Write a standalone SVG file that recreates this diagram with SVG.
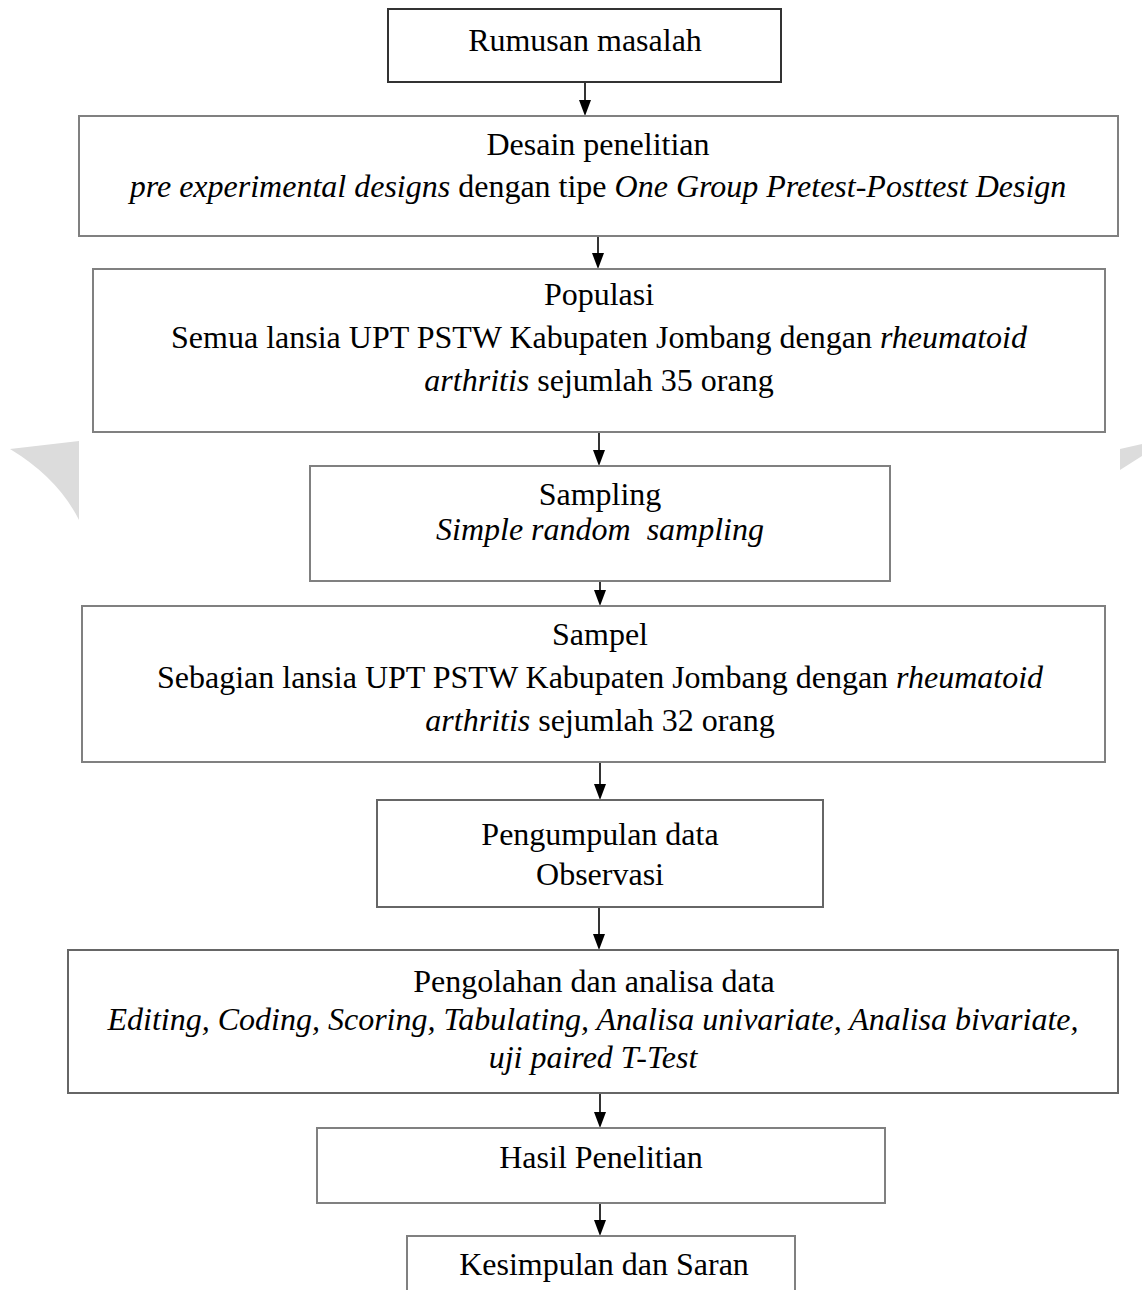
<svg xmlns="http://www.w3.org/2000/svg" width="1142" height="1290" viewBox="0 0 1142 1290">
<style>
.box{fill:#fff;stroke:#808080;stroke-width:2}
.dark{stroke:#333}
.t{font-family:"Liberation Serif","Times New Roman",serif;font-size:32px;fill:#000;text-anchor:middle}
.i{font-style:italic}
.c{stroke:#000;stroke-width:1.6;fill:none}
.wm{fill:#dcdcdc}
</style>
<rect width="1142" height="1290" fill="#fff"/>
<path class="wm" d="M10,449 L79,441 L79,520 Q58,478 10,449 Z"/>
<path class="wm" d="M1120,449 L1142,444 L1142,456 L1120,470 Z"/>

<g id="connectors">
<line class="c" x1="585" y1="82" x2="585" y2="100"/><path d="M579,100 L591,100 L585,116 Z"/>
<line class="c" x1="598" y1="236" x2="598" y2="253"/><path d="M592,253 L604,253 L598,269 Z"/>
<line class="c" x1="599" y1="432" x2="599" y2="450"/><path d="M593,450 L605,450 L599,466 Z"/>
<line class="c" x1="600" y1="581" x2="600" y2="590"/><path d="M594,590 L606,590 L600,606 Z"/>
<line class="c" x1="600" y1="762" x2="600" y2="784"/><path d="M594,784 L606,784 L600,800 Z"/>
<line class="c" x1="599" y1="907" x2="599" y2="934"/><path d="M593,934 L605,934 L599,950 Z"/>
<line class="c" x1="600" y1="1093" x2="600" y2="1112"/><path d="M594,1112 L606,1112 L600,1128 Z"/>
<line class="c" x1="600" y1="1203" x2="600" y2="1220"/><path d="M594,1220 L606,1220 L600,1236 Z"/>
</g>

<g id="n1"><rect class="box dark" x="388" y="9" width="393" height="73"/>
<text class="t" x="585" y="51">Rumusan masalah</text></g>

<g id="n2"><rect class="box" x="79" y="116" width="1039" height="120"/>
<text class="t" x="598" y="155">Desain penelitian</text>
<text class="t" x="598" y="197"><tspan class="i">pre experimental designs</tspan> dengan tipe <tspan class="i">One Group Pretest</tspan>-<tspan class="i">Posttest Design</tspan></text></g>

<g id="n3"><rect class="box" x="93" y="269" width="1012" height="163"/>
<text class="t" x="599" y="305">Populasi</text>
<text class="t" x="599" y="348">Semua lansia UPT PSTW Kabupaten Jombang dengan <tspan class="i">rheumatoid</tspan></text>
<text class="t" x="599" y="391"><tspan class="i">arthritis</tspan> sejumlah 35 orang</text></g>

<g id="n4"><rect class="box" x="310" y="466" width="580" height="115"/>
<text class="t" x="600" y="505">Sampling</text>
<text class="t i" x="600" y="540">Simple random&#160; sampling</text></g>

<g id="n5"><rect class="box" x="82" y="606" width="1023" height="156"/>
<text class="t" x="600" y="645">Sampel</text>
<text class="t" x="600" y="688">Sebagian lansia UPT PSTW Kabupaten Jombang dengan <tspan class="i">rheumatoid</tspan></text>
<text class="t" x="600" y="731"><tspan class="i">arthritis</tspan> sejumlah 32 orang</text></g>

<g id="n6"><rect class="box" style="stroke:#666" x="377" y="800" width="446" height="107"/>
<text class="t" x="600" y="845">Pengumpulan data</text>
<text class="t" x="600" y="885">Observasi</text></g>

<g id="n7"><rect class="box" style="stroke:#666" x="68" y="950" width="1050" height="143"/>
<text class="t" x="594" y="992">Pengolahan dan analisa data</text>
<text class="t i" x="593" y="1030">Editing, Coding, Scoring, Tabulating, Analisa univariate, Analisa bivariate,</text>
<text class="t i" x="593" y="1068">uji paired T-Test</text></g>

<g id="n8"><rect class="box" x="317" y="1128" width="568" height="75"/>
<text class="t" x="601" y="1168">Hasil Penelitian</text></g>

<g id="n9"><rect class="box" x="407" y="1236" width="388" height="70"/>
<text class="t" x="604" y="1275">Kesimpulan dan Saran</text></g>
</svg>
